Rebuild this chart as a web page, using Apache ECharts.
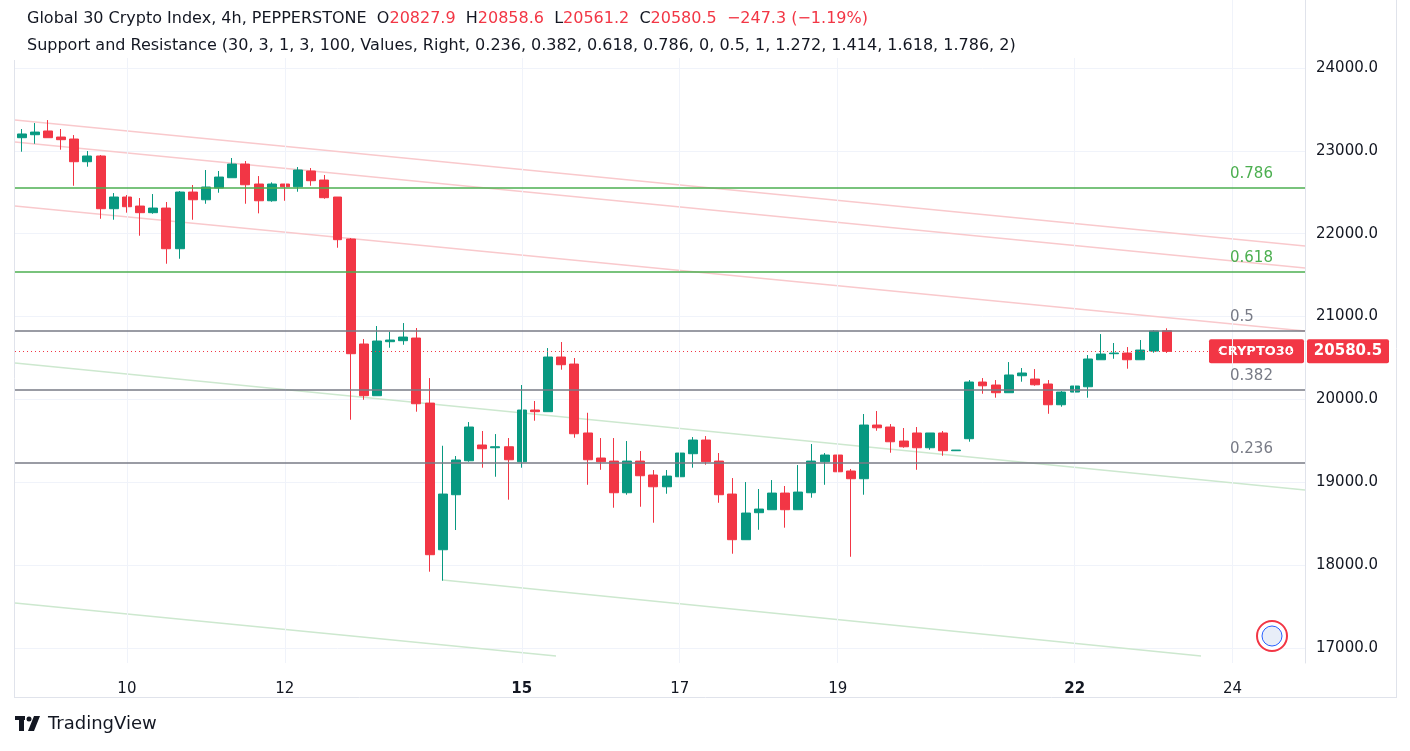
<!DOCTYPE html>
<html><head><meta charset="utf-8">
<script src="https://cdn.jsdelivr.net/npm/echarts@6/dist/echarts.min.js"></script>
<style>html,body{margin:0;padding:0;background:#fff}#c{width:1410px;height:751px}</style>
</head><body><div id="c"></div>
<script>
// [open, close, low, high]
const candles = [
[23159,23204,22990,23264],[23195,23227,23086,23336],[23240,23159,23159,23372],[23167,23135,23014,23264],
[23143,22869,22579,23191],[22869,22938,22809,22998],[22938,22302,22181,22950],[22302,22443,22169,22491],
[22443,22326,22254,22467],[22334,22254,21976,22431],[22254,22310,22241,22479],[22310,21819,21638,22383],
[21819,22503,21698,22515],[22503,22410,22169,22588],[22410,22564,22362,22769],[22552,22684,22495,22757],
[22676,22841,22676,22914],[22841,22591,22362,22878],[22600,22398,22246,22696],[22398,22600,22386,22620],
[22600,22567,22398,22600],[22567,22769,22507,22805],[22757,22640,22579,22793],[22648,22435,22422,22709],
[22443,21928,21831,22443],[21936,20552,19755,21948],[20669,20045,19996,20729],[20045,20705,20045,20886],
[20697,20717,20624,20817],[20709,20753,20660,20922],[20741,19948,19852,20862],[19956,18126,17921,20258],
[18186,18858,17812,19441],[18850,19269,18424,19317],[19260,19667,19248,19727],[19450,19405,19176,19619],
[19417,19429,19067,19582],[19429,19272,18790,19534],[19248,19872,19176,20174],[19872,19852,19743,19981],
[19852,20512,19852,20620],[20512,20419,20359,20693],[20427,19586,19538,20500],[19595,19272,18970,19839],
[19293,19248,19151,19534],[19256,18874,18693,19534],[18874,19256,18850,19498],[19256,19079,18705,19377],
[19088,18946,18512,19148],[18946,19075,18862,19148],[19067,19353,19067,19425],[19345,19510,19176,19546],
[19510,19248,19212,19558],[19256,18850,18753,19353],[18858,18307,18138,19051],[18307,18629,18307,19003],
[18633,18677,18427,18919],[18669,18870,18669,19027],[18870,18669,18452,18955],[18669,18882,18669,19208],
[18874,19256,18814,19462],[19248,19329,18970,19353],[19329,19127,19127,19450],[19136,19043,18101,19160],
[19043,19691,18850,19824],[19691,19658,19622,19860],[19667,19489,19357,19703],[19498,19429,19417,19655],
[19595,19417,19151,19667],[19417,19595,19393,19582],[19595,19381,19320,19619],[19381,19389,19380,19390],
[19526,20210,19490,20234],[20210,20165,20069,20258],[20174,20081,20021,20234],[20081,20295,20081,20451],
[20286,20319,20214,20379],[20246,20177,20165,20367],[20186,19936,19827,20234],[19936,20089,19912,20101],
[20089,20162,20069,20270],[20153,20488,20021,20536],[20479,20548,20479,20789],[20552,20560,20491,20681],
[20560,20479,20371,20632],[20479,20596,20479,20717],[20584,20826,20564,20838],[20828,20580.5,20561,20859]
];
const slotCount = 98;
const xLabelIdx = [8,20,38,50,62,80,92];
const xLabels = ['10','12','15','17','19','22','24'];
const boldLabels = ['15','22'];
const yTicks = [17000,18000,19000,20000,21000,22000,23000,24000];
const fibLevels = [22552,21538,20826,20114,19232];
const fibNames = ['0.786','0.618','0.5','0.382','0.236'];
const fibGreen = [true,true,false,false,false];
const lastPrice = 20580.5;
// trend lines: [x1, y1, x2, y2] in slot index / price
const pinkLines = [[-0.5,23372,97.5,21852],[-0.5,23107,97.5,21586],[-0.5,22334,97.5,20826]];
const greenLines = [[-0.5,20439,97.5,18906],[32,17820,89.6,16903],[-0.5,17543,40.6,16903]];

const cats = []; for (let i=0;i<slotCount;i++) cats.push(String(i));
const labelMap = {}; xLabelIdx.forEach((k,j)=>labelMap[k]=xLabels[j]);
const data = candles.map(c=>c.slice());

const font = '"DejaVu Sans", Verdana, sans-serif';
const trendSeries = [];
pinkLines.forEach(l=>trendSeries.push({type:'line',xAxisIndex:1,data:[[l[0],l[1]],[l[2],l[3]]],symbol:'none',silent:true,lineStyle:{color:'#f9c9cc',width:1.5},z:1}));
greenLines.forEach(l=>trendSeries.push({type:'line',xAxisIndex:1,data:[[l[0],l[1]],[l[2],l[3]]],symbol:'none',silent:true,lineStyle:{color:'#cde8cf',width:1.5},z:1}));
trendSeries.push({type:'line',xAxisIndex:1,data:[],silent:true,z:0,
  markLine:{symbol:'none',silent:true,animation:false,label:{show:false},lineStyle:{color:'#f0f3fa',width:1,type:'solid'},
    data:xLabelIdx.map(i=>({xAxis:i}))}});

const fibMark = fibLevels.map((v,i)=>({yAxis:v,lineStyle:{color:fibGreen[i]?'#4caf50':'#787b86',width:1.5,type:'solid'},
  label:{show:true,position:'insideEndTop',align:'left',formatter:fibNames[i],color:fibGreen[i]?'#4caf50':'#787b86',fontSize:15,fontFamily:font,distance:[75,6]}}));
fibMark.push({yAxis:lastPrice,lineStyle:{color:'#f23645',width:1,type:[1,3]},label:{show:false}});

const chart = echarts.init(document.getElementById('c'));
chart.setOption({
  animation:false,
  grid:{left:15,right:105,top:0,bottom:88},
  xAxis:[{type:'category',data:cats,boundaryGap:true,
    axisLine:{show:false},axisTick:{show:false},
    axisLabel:{interval:(i)=>labelMap[i]!==undefined,margin:19,formatter:(v)=>{const s=labelMap[+v]||'';return boldLabels.includes(s)?'{b|'+s+'}':s;},
      color:'#131722',fontSize:15,fontFamily:font,rich:{b:{fontWeight:'bold',fontSize:15,color:'#131722',fontFamily:font}}},
    splitLine:{show:false}},
   {type:'value',min:-0.5,max:97.5,show:false,splitLine:{show:false},axisLine:{show:false}}],
  yAxis:{type:'value',position:'right',min:16819,max:24821,
    axisLine:{show:true,onZero:false,lineStyle:{color:'#e0e3eb'}},axisTick:{show:false,customValues:yTicks},
    axisLabel:{customValues:yTicks,formatter:(v)=>v.toFixed(1),color:'#131722',fontSize:15,fontFamily:font,margin:11},
    splitLine:{show:true,lineStyle:{color:'#f0f3fa'}}},
  series:[...trendSeries,{type:'candlestick',data:data,barWidth:'72%',
    itemStyle:{color:'#089981',color0:'#f23645',borderColor:'#089981',borderColor0:'#f23645',borderWidth:1},
    markLine:{symbol:'none',silent:true,data:fibMark,animation:false},z:3}]
});
const yp = chart.convertToPixel({yAxisIndex:0},lastPrice);
chart.setOption({graphic:[
  {type:'rect',shape:{x:15,y:0,width:1150,height:58},style:{fill:'#fff'},z:10},
  {type:'rect',shape:{x:1209,y:yp-12,width:95,height:24,r:2},style:{fill:'#f23645'}},
  {type:'text',x:1256,y:yp,style:{text:'CRYPTO30',fill:'#fff',font:'bold 13px '+font,align:'center',verticalAlign:'middle'}},
  {type:'rect',shape:{x:1307,y:yp-12,width:82,height:24,r:2},style:{fill:'#f23645'}},
  {type:'text',x:1348,y:yp,style:{text:'20580.5',fill:'#fff',font:'bold 15px '+font,align:'center',verticalAlign:'middle'}},
  {type:'text',x:27,y:19,z:11,style:{rich:{a:{fill:'#131722',font:'16px '+font},r:{fill:'#f23645',font:'16px '+font}},
    text:'{a|Global 30 Crypto Index, 4h, PEPPERSTONE  O}{r|20827.9}{a|  H}{r|20858.6}{a|  L}{r|20561.2}{a|  C}{r|20580.5}{r|  −247.3 (−1.19%)}',verticalAlign:'middle'}},
  {type:'text',x:27,y:46,z:11,style:{text:'Support and Resistance (30, 3, 1, 3, 100, Values, Right, 0.236, 0.382, 0.618, 0.786, 0, 0.5, 1, 1.272, 1.414, 1.618, 1.786, 2)',fill:'#131722',font:'16px '+font,verticalAlign:'middle'}},
  {type:'line',shape:{x1:14.5,y1:60,x2:14.5,y2:697},style:{stroke:'#e0e3eb'}},
  {type:'line',shape:{x1:14,y1:697.5,x2:1397,y2:697.5},style:{stroke:'#e0e3eb'}},
  {type:'line',shape:{x1:1396.5,y1:0,x2:1396.5,y2:697},style:{stroke:'#e0e3eb'}},
  {type:'circle',shape:{cx:1272,cy:636,r:15},style:{fill:'#fff',stroke:'#f23645',lineWidth:2}},
  {type:'circle',shape:{cx:1272,cy:636,r:10},style:{fill:'#e8eef8',stroke:'#2962ff',lineWidth:1}},
  {type:'rect',shape:{x:15,y:716,width:10,height:4},style:{fill:'#131722'}},
  {type:'rect',shape:{x:19,y:716,width:5,height:15},style:{fill:'#131722'}},
  {type:'circle',shape:{cx:29,cy:719,r:2.5},style:{fill:'#131722'}},
  {type:'polygon',shape:{points:[[34,716],[40,716],[34,731],[28,731]]},style:{fill:'#131722'}},
  {type:'text',x:48,y:724,style:{text:'TradingView',fill:'#131722',font:'18px '+font,verticalAlign:'middle'}}
]});
</script></body></html>
